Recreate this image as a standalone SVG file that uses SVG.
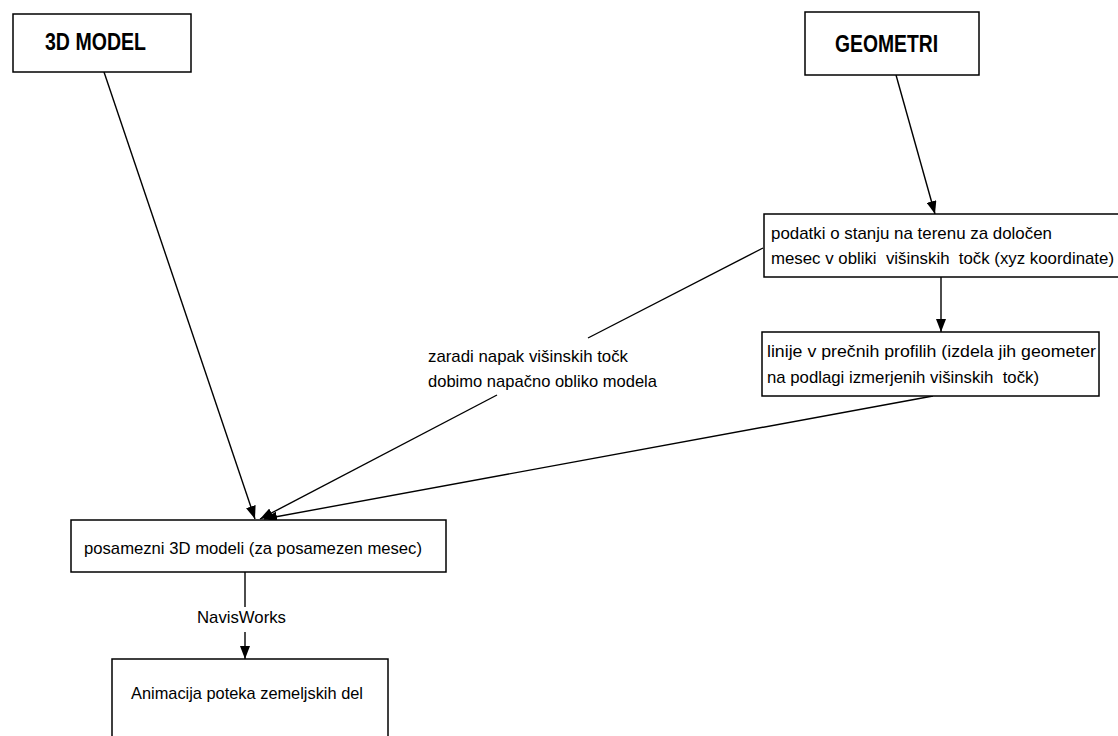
<svg xmlns="http://www.w3.org/2000/svg" width="1118" height="736" viewBox="0 0 1118 736">
  <style>
    .box { fill: #ffffff; stroke: #000000; stroke-width: 1.5; }
    .head { font-family: "Liberation Sans", Arial, sans-serif; font-weight: bold; font-size: 24px; fill: #000000; }
    .lbl { font-family: "Liberation Sans", Arial, sans-serif; font-size: 17px; fill: #000000; white-space: pre; }
    .edge { fill: none; stroke: #000000; stroke-width: 1.4; }
  </style>
  <defs>
    <marker id="arrow" viewBox="0 0 13 10" refX="13" refY="5" markerWidth="13" markerHeight="10" markerUnits="userSpaceOnUse" orient="auto">
      <path d="M0,0 L13,5 L0,10 Z" fill="#000000"/>
    </marker>
  </defs>
  <rect width="1118" height="736" fill="#ffffff"/>

  <g id="connectors">
    <line class="edge" x1="104" y1="72" x2="255" y2="519" marker-end="url(#arrow)"/>
    <line class="edge" x1="896" y1="75" x2="935" y2="214" marker-end="url(#arrow)"/>
    <line class="edge" x1="941" y1="277" x2="941" y2="332" marker-end="url(#arrow)"/>
    <line class="edge" x1="763" y1="248" x2="588" y2="338"/>
    <line class="edge" x1="497" y1="395" x2="260" y2="519" marker-end="url(#arrow)"/>
    <line class="edge" x1="933" y1="396" x2="264" y2="519" marker-end="url(#arrow)"/>
    <line class="edge" x1="245" y1="572" x2="245" y2="607"/>
    <line class="edge" x1="245" y1="632" x2="245" y2="659" marker-end="url(#arrow)"/>
    <text class="lbl" x="428" y="362" textLength="200" lengthAdjust="spacingAndGlyphs">zaradi napak višinskih točk</text>
    <text class="lbl" x="428" y="387" textLength="229" lengthAdjust="spacingAndGlyphs">dobimo napačno obliko modela</text>
    <text class="lbl" x="197" y="623" textLength="89" lengthAdjust="spacingAndGlyphs">NavisWorks</text>
  </g>

  <g id="node-3d-model">
    <rect class="box" x="13" y="14" width="178" height="58"/>
    <text class="head" x="45" y="50" textLength="101" lengthAdjust="spacingAndGlyphs">3D MODEL</text>
  </g>

  <g id="node-geometri">
    <rect class="box" x="805" y="12" width="174" height="63"/>
    <text class="head" x="835" y="52" textLength="103" lengthAdjust="spacingAndGlyphs">GEOMETRI</text>
  </g>

  <g id="node-podatki">
    <rect class="box" x="764" y="214" width="360" height="63"/>
    <text class="lbl" x="771" y="239" textLength="281" lengthAdjust="spacingAndGlyphs">podatki o stanju na terenu za določen</text>
    <text class="lbl" x="771" y="264" textLength="343" lengthAdjust="spacingAndGlyphs">mesec v obliki  višinskih  točk (xyz koordinate)</text>
  </g>

  <g id="node-linije">
    <rect class="box" x="762" y="332" width="337" height="64"/>
    <text class="lbl" x="767" y="357" textLength="329" lengthAdjust="spacingAndGlyphs">linije v prečnih profilih (izdela jih geometer</text>
    <text class="lbl" x="767" y="383" textLength="272" lengthAdjust="spacingAndGlyphs">na podlagi izmerjenih višinskih  točk)</text>
  </g>

  <g id="node-posamezni">
    <rect class="box" x="71" y="520" width="375" height="52"/>
    <text class="lbl" x="84" y="554" textLength="338" lengthAdjust="spacingAndGlyphs">posamezni 3D modeli (za posamezen mesec)</text>
  </g>

  <g id="node-animacija">
    <rect class="box" x="112" y="659" width="276" height="90"/>
    <text class="lbl" x="131" y="699" textLength="232" lengthAdjust="spacingAndGlyphs">Animacija poteka zemeljskih del</text>
  </g>
</svg>
